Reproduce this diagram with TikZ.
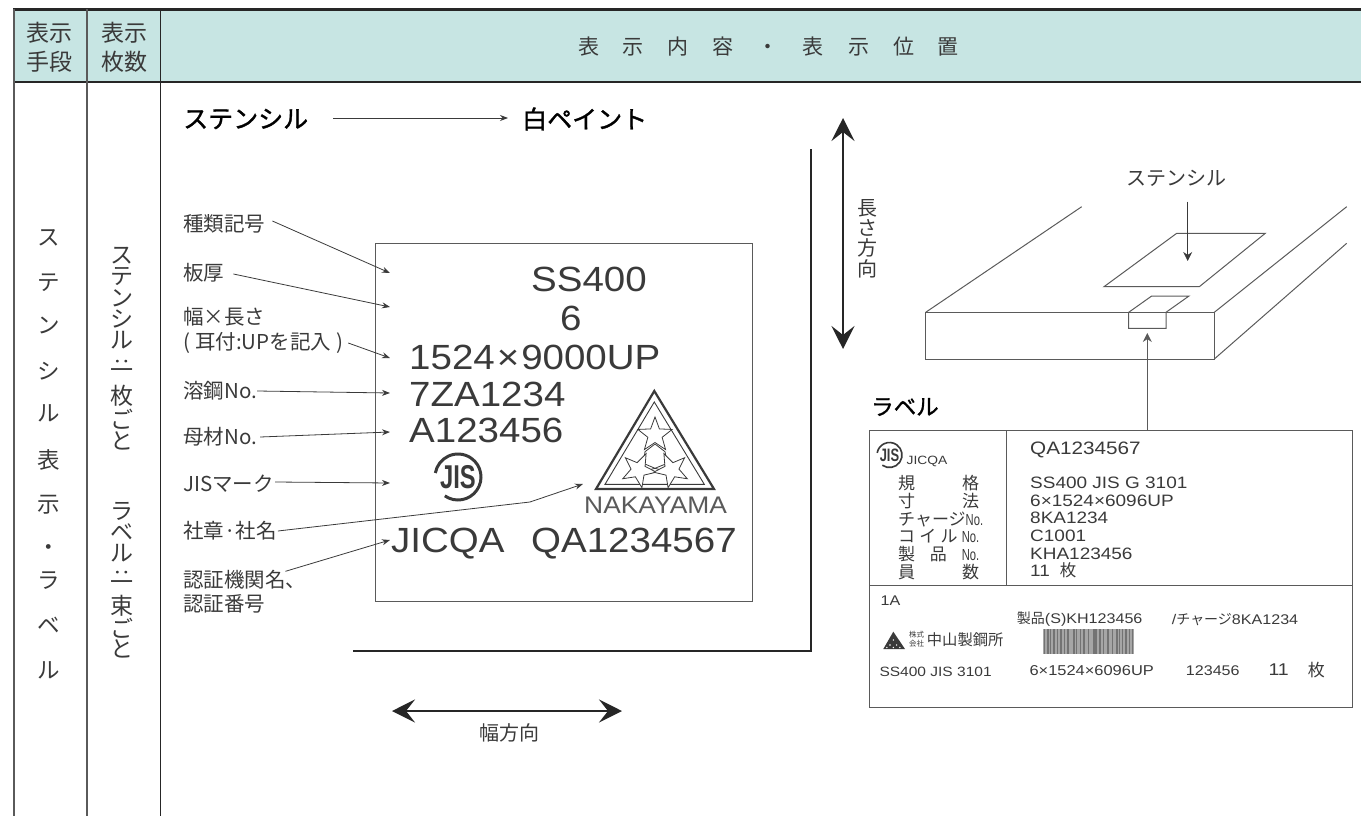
\documentclass[tikz,border=0pt]{standalone}
\usepackage{fontspec}
\setmainfont{Noto Sans CJK JP}
\newfontfamily\jpfont{Noto Sans CJK JP}
\newfontfamily\jptitle[FakeBold=1.3]{Noto Sans CJK JP}
\newfontfamily\stampfont[FakeStretch=1.1]{Liberation Sans}
\newfontfamily\tagfont[FakeStretch=1.15]{Liberation Sans}
\newfontfamily\jisfont[FakeStretch=0.72]{Liberation Sans Bold}
\newfontfamily\nofont[FakeStretch=0.7]{Liberation Sans}
\usetikzlibrary{arrows.meta,shapes.geometric}
\definecolor{headfill}{HTML}{C7E5E3}
\definecolor{inkgray}{HTML}{3A3A3A}
\definecolor{rulegray}{HTML}{5A5A5A}
\newcommand{\fs}[1]{\fontsize{#1}{#1}\selectfont}
\newcommand{\nomark}{{\nofont\fs{16}No.}}
\newcommand{\jismark}[5]{
    \draw[inkgray, line width=#4*0.13pt] (#2,#3) ++(-235:#4) arc[start angle=-235, end angle=-530, radius=#4];
    \node[inner sep=0pt, text=inkgray, font=\jisfont\fs{#5}] (#1) at (#2,#3) {JIS};
}
\tikzset{
    lab/.style={anchor=west, inner sep=0pt, text=inkgray, font=\jpfont\fs{20.5}},
    headlab/.style={inner sep=0pt, text=inkgray, align=center, font=\jpfont\fontsize{23}{29}\selectfont},
    vlab/.style={inner sep=0pt, text=inkgray, font=\jpfont\fs{#1}},
    titlelab/.style={anchor=west, inner sep=0pt, text=black, font=\jptitle\fs{25}},
    stamp/.style={anchor=base west, inner sep=0pt, text=inkgray, font=\stampfont\fs{35}},
    tagtext/.style={anchor=west, inner sep=0pt, text=inkgray, font=\tagfont\fs{#1}},
    tagjp/.style={anchor=west, inner sep=0pt, text=inkgray, font=\jpfont\fs{#1}},
    lead/.style={-{Stealth[length=8pt,width=6pt]}, draw=inkgray, line width=0.8pt},
    bigarrow/.style={{Stealth[length=23pt,width=23pt,inset=9pt]}-{Stealth[length=23pt,width=23pt,inset=9pt]}, draw=black!85, line width=2.4pt},
    block/.style={draw=rulegray, line width=1pt, line join=miter},
    logostar/.style={star, star points=5, star point ratio=2.4, minimum size=36pt, inner sep=0pt, fill=white, draw=inkgray, line width=0.8pt}
}
\begin{document}
\begin{tikzpicture}[x=1pt, y=-1pt]
    \useasboundingbox (0,0) rectangle (1361,816);

    \fill[headfill] (14,10) rectangle (1361,82);
    \draw[black!85, line width=2.6pt] (13.4,9.5) -- (1361,9.5);
    \draw[black!85, line width=1.8pt] (13.4,82) -- (1361,82);
    \draw[rulegray, line width=1.3pt] (14,9) -- (14,816);
    \draw[rulegray, line width=1.3pt] (87,9) -- (87,816);
    \draw[black!85, line width=1.1pt] (160.5,9) -- (160.5,816);

    \node[headlab] (meansHead) at (50,47) {表示\\手段};
    \node[headlab] (countHead) at (124,47) {表示\\枚数};
    \node[inner sep=0pt, text=inkgray, font=\jpfont\fs{21}] (contentHead) at (768.5,47) {表\hspace{24pt}示\hspace{24pt}内\hspace{24pt}容\hspace{24pt}・\hspace{24pt}表\hspace{24pt}示\hspace{24pt}位\hspace{24pt}置};

    \foreach \c/\y [count=\i] in {ス/238,テ/283,ン/325,シ/371,ル/413,表/460,示/505,・/550,ラ/581,ベ/625,ル/670}
        \node[vlab=22.5, name=meansChar\i] at (49,\y) {\c};
    \foreach \c/\y [count=\i] in {ス/256,テ/277,ン/298,シ/319,ル/340,一/374,枚/396,ご/419,と/441,ラ/511,ベ/532,ル/553,一/586,束/606,ご/628,と/649}
        \node[vlab=23, name=countChar\i] at (122,\y) {\c};
    \node[vlab=21, rotate=90] (colonA) at (122,362) {:};
    \node[vlab=21, rotate=90] (colonB) at (122,573) {:};

    \node[titlelab] (stencilTitle) at (183,119) {ステンシル};
    \node[titlelab] (paintTitle) at (522,119) {白ペイント};
    \draw[lead] (stencilTitle.east) ++(25,-1) -- ([xshift=-14pt,yshift=1pt]paintTitle.west);

    \draw[block] (375.5,243) rectangle (752,601);
    \draw[black!85, line width=2.4pt] (811,149) -- (811,651) -- (353,651);

    \coordinate (longTop) at (843,118);
    \coordinate (longEnd) at (843,349);
    \draw[bigarrow] (longTop) -- (longEnd);
    \foreach \c/\y [count=\i] in {長/208,さ/228,方/248,向/269}
        \node[vlab=20, name=longChar\i] at (867,\y) {\c};
    \coordinate (wideLeft) at (392,711);
    \coordinate (wideRight) at (622,711);
    \draw[bigarrow] (wideLeft) -- (wideRight);
    \node[vlab=20] (wideLab) at (509,733) {幅方向};

    \node[lab] (kindLab) at (183,224) {種類記号};
    \node[lab] (thickLab) at (183,273) {板厚};
    \node[lab] (sizeLab) at (183,317) {幅×長さ};
    \node[lab] (edgeLab) at (183,343) {(\hspace{5pt}耳付:UPを記入\hspace{5pt})};
    \node[lab] (heatLab) at (183,391) {溶鋼No.};
    \node[lab] (plateLab) at (183,437) {母材No.};
    \node[lab] (jisLab) at (183,484) {JISマーク};
    \node[lab] (logoLab) at (183,531) {社章·社名};
    \node[lab] (certLab) at (183,580) {認証機関名、};
    \node[lab] (certNoLab) at (183,604) {認証番号};

    \coordinate (kindTip) at (390,273);
    \coordinate (thickTip) at (390,307);
    \coordinate (sizeTip) at (390,358);
    \coordinate (heatTip) at (390,393);
    \coordinate (plateTip) at (390,432);
    \coordinate (jisTip) at (390,483);
    \coordinate (logoBend) at (530,502);
    \coordinate (logoTip) at (583,484);
    \coordinate (certTip) at (390,540);

    \draw[lead] ([xshift=7pt,yshift=3pt]kindLab.east) -- (kindTip);
    \draw[lead] ([xshift=9pt,yshift=-1pt]thickLab.east) -- (thickTip);
    \draw[lead] ([xshift=5pt]edgeLab.east) -- (sizeTip);
    \draw[lead] (heatLab.east) -- (heatTip);
    \draw[lead] ([xshift=3pt]plateLab.east) -- (plateTip);
    \draw[lead] ([xshift=1pt,yshift=2pt]jisLab.east) -- (jisTip);
    \draw[lead] ([xshift=1pt]logoLab.east) -- (logoBend) -- (logoTip);
    \draw[lead] ([xshift=-21pt,yshift=-1pt]certLab.north east) -- (certTip);

    \node[stamp] (gradeText) at (531,291) {SS400};
    \node[stamp] (thickText) at (560,330) {6};
    \node[stamp] (sizeText) at (409,369) {1524\hspace{2pt}×\hspace{2pt}9000UP};
    \node[stamp] (heatText) at (409,406) {7ZA1234};
    \node[stamp] (plateText) at (409,442) {A123456};
    \node[stamp] (bodyText) at (391,552) {JICQA};
    \node[stamp] (certText) at (531,552) {QA1234567};
    \node[anchor=base west, inner sep=0pt, text=rulegray, font=\stampfont\fs{24}] (makerText) at (584,513) {NAKAYAMA};
    \jismark{jisBig}{458}{477}{23}{33}

    \draw[inkgray, line width=2.2pt] (654.3,391) -- (714,489) -- (596,489) -- cycle;
    \draw[inkgray, line width=0.9pt] (654.3,402) -- (704.3,484.3) -- (605,484.3) -- cycle;
    \draw[inkgray, line width=0.8pt] (655,444) -- (665,451.7) -- (667.3,463.3) -- (655,468.3) -- (643.3,463.3) -- (645,451.7) -- cycle;
    \draw[inkgray, line width=0.8pt] (655,468.3) -- (641,472) -- (641,485);
    \draw[inkgray, line width=0.8pt] (655,468.3) -- (668,472) -- (668,485);
    \node[logostar] (starTop) at (655,435) {};
    \node[logostar, rotate=47] (starLeft) at (638.5,470) {};
    \node[logostar, rotate=-47] (starRight) at (671.5,470) {};

    \draw[block] (925.7,312.3) rectangle (1214.3,359);
    \draw[block] (925.7,312.3) -- (1081.7,206.7);
    \draw[block] (1214.3,312.3) -- (1346.7,206.7);
    \draw[block] (1214.3,359) -- (1346.7,243.3);
    \draw[block] (1176.7,233.3) -- (1265.3,233.3) -- (1199.3,286.7) -- (1104,286.7) -- cycle;
    \draw[block] (1128.7,312.3) -- (1151.7,296) -- (1189,296) -- (1166,312.3) -- (1166,328.3) -- (1128.7,328.3) -- cycle;

    \node[vlab=20] (stencilLab) at (1176.7,178) {ステンシル};
    \coordinate (stencilTip) at (1187.7,261);
    \draw[-{Stealth[length=9pt,width=9pt]}, draw=inkgray, line width=0.8pt] (1187.7,201.7) -- (stencilTip);
    \node[titlelab, font=\jptitle\fs{22.5}] (labelTitle) at (871,407) {ラベル};

    \draw[block] (869.3,430) rectangle (1352,707.7);
    \draw[block] (1006,430) -- (1006,585.3);
    \draw[block] (869.3,585.3) -- (1352,585.3);
    \coordinate (tagTop) at (1147.3,430);
    \coordinate (tagTip) at (1147.3,333);
    \draw[-{Stealth[length=9pt,width=9pt]}, draw=rulegray, line width=0.9pt] (tagTop) -- (tagTip);

    \jismark{jisSmall}{889.5}{455}{12.5}{18}
    \node[tagtext=12] (jicqaText) at (906.5,461.5) {JICQA};
    \node[anchor=west, inner sep=0pt, text=inkgray, align=left, font=\jpfont\fontsize{17}{17.7}\selectfont] (specNames) at (898,527.5) {\makebox[81pt][s]{規\hfill 格}\\\makebox[81pt][s]{寸\hfill 法}\\\makebox[81pt][s]{チャージ\hfill\nomark}\\\makebox[81pt][s]{コ\hfill イ\hfill ル\hfill\nomark}\\\makebox[81pt][s]{製\hfill 品\hfill\nomark}\\\makebox[81pt][s]{員\hfill 数}};
    \node[tagtext=18] (tagCert) at (1030,449.5) {QA1234567};
    \node[anchor=west, inner sep=0pt, text=inkgray, align=left, font=\tagfont\fontsize{16.5}{17.7}\selectfont] (specValues) at (1030,527.5) {SS400 JIS G 3101\\6×1524×6096UP\\8KA1234\\C1001\\KHA123456\\11\hspace{10pt}{\jpfont 枚}};

    \node[tagtext=14] (lotText) at (880.5,600.3) {1A};
    \node[tagtext=14] (productText) at (1016.7,619.3) {{\jpfont 製品}(S)KH123456};
    \node[tagtext=14] (chargeText) at (1171.7,619.3) {/{\jpfont チャージ}8KA1234};
    \fill[black!35] (1042.7,629) rectangle (1134,654.3);
    \foreach \bx/\bw in {1044/1,1047/1.5,1050/1,1053/2,1057/1,1060/1.5,1064/1,1067/2,1073/1.5,1076/1,1080/1,1083/2,1088/1,1093/4,1099/1.5,1103/1,1107/2,1112/1,1116/1.5,1119/1,1122/1,1125/2,1129/1,1132/1}
        \fill[black!55] (\bx,629) rectangle ++(\bw,25.3);
    \fill[inkgray] (893.3,631.7) -- (905,649) -- (883.3,649) -- cycle;
    \foreach \dx/\dy in {893.3/640,890/645,896.6/645,886.8/647.5,893.3/647.5,899.8/647.5}
        \fill[white] (\dx,\dy) circle (0.8);
    \node[inner sep=0pt, text=inkgray, align=center, font=\jpfont\fontsize{7.5}{9}\selectfont] (firmKind) at (916.7,639.5) {株式\\会社};
    \node[tagjp=15.3] (firmName) at (926.7,639.3) {中山製鋼所};
    \node[tagtext=13.5] (tagGrade) at (879.3,671.7) {SS400 JIS 3101};
    \node[tagtext=14.3] (tagSize) at (1029.3,670.7) {6×1524×6096UP};
    \node[tagtext=14] (tagCode) at (1185.7,670.7) {123456};
    \node[tagtext=17] (tagCount) at (1268.3,670) {11};
    \node[tagjp=17] (tagSheet) at (1307.7,670) {枚};
\end{tikzpicture}
\end{document}
